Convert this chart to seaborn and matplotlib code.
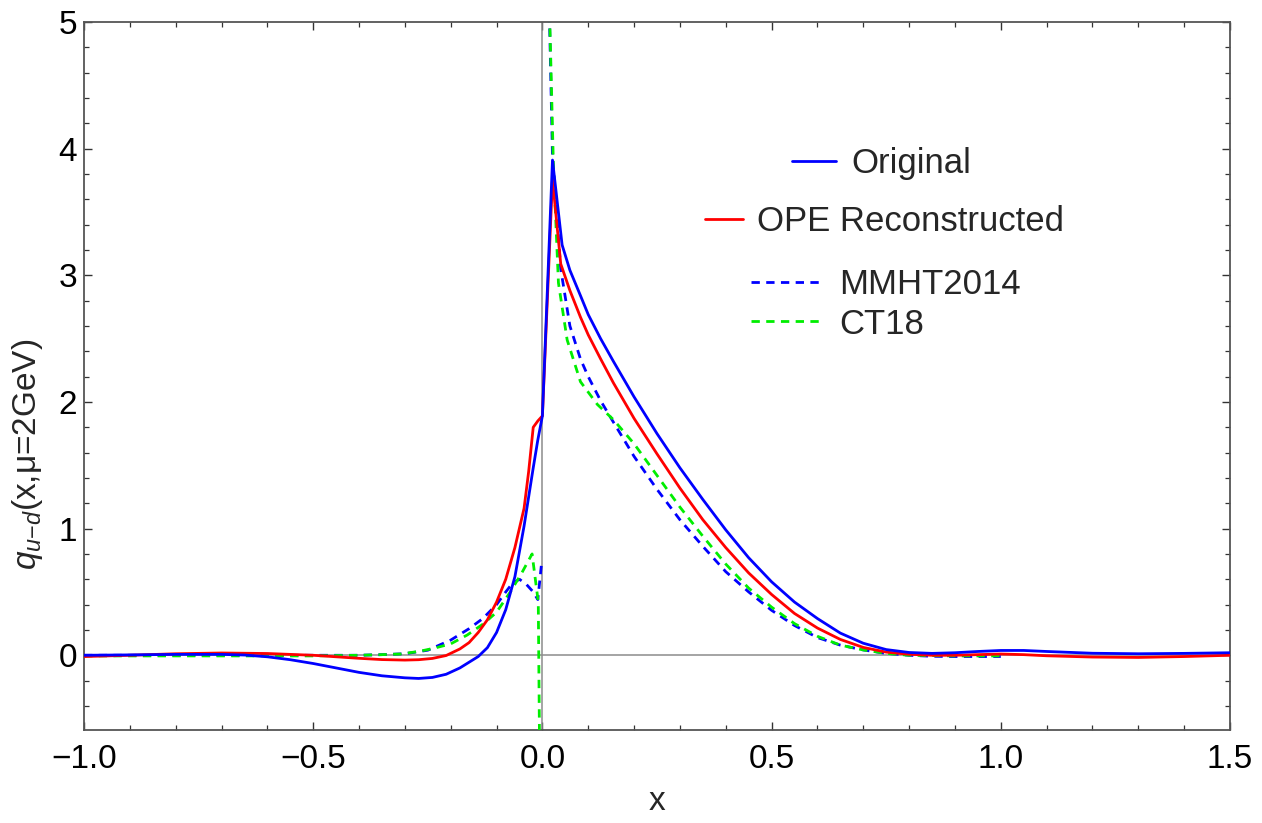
import numpy as np
import pandas as pd
import matplotlib
matplotlib.use("Agg")
import matplotlib.pyplot as plt
import seaborn as sns
from matplotlib.lines import Line2D
from matplotlib.ticker import MultipleLocator

# ---------------- data ----------------
orig_x = [-1.0, -0.9, -0.8, -0.7, -0.65, -0.6, -0.55, -0.5, -0.45, -0.4, -0.35, -0.3, -0.27,
          -0.24, -0.21, -0.18, -0.16, -0.14, -0.12, -0.10, -0.08, -0.06, -0.04, -0.03, -0.02,
          -0.01, 0.0, 0.022, 0.043, 0.06, 0.083, 0.1, 0.127, 0.155, 0.2, 0.25, 0.3, 0.35, 0.4,
          0.45, 0.5, 0.55, 0.6, 0.65, 0.7, 0.75, 0.8, 0.85, 0.9, 0.95, 1.0, 1.05, 1.1, 1.2,
          1.3, 1.4, 1.5]
orig_y = [0.0, 0.003, 0.007, 0.007, 0.002, -0.012, -0.035, -0.065, -0.10, -0.135, -0.162,
          -0.178, -0.183, -0.175, -0.15, -0.10, -0.055, -0.01, 0.06, 0.18, 0.36, 0.62, 1.02,
          1.25, 1.48, 1.70, 1.89, 3.91, 3.24, 3.04, 2.84, 2.69, 2.50, 2.32, 2.04, 1.75, 1.48,
          1.23, 0.99, 0.77, 0.58, 0.42, 0.29, 0.175, 0.095, 0.045, 0.022, 0.015, 0.02, 0.03,
          0.038, 0.038, 0.03, 0.016, 0.012, 0.015, 0.02]

ope_x = [-1.0, -0.9, -0.8, -0.7, -0.6, -0.5, -0.45, -0.4, -0.35, -0.3, -0.27, -0.24, -0.21,
         -0.18, -0.16, -0.14, -0.12, -0.10, -0.08, -0.06, -0.04, -0.03, -0.02, -0.01, 0.0,
         0.022, 0.04, 0.06, 0.083, 0.1, 0.127, 0.155, 0.2, 0.25, 0.3, 0.35, 0.4, 0.45, 0.5,
         0.55, 0.6, 0.65, 0.7, 0.75, 0.8, 0.85, 0.9, 0.95, 1.0, 1.05, 1.1, 1.2, 1.3, 1.4, 1.5]
ope_y = [-0.01, 0.0, 0.012, 0.018, 0.014, 0.0, -0.012, -0.024, -0.034, -0.038, -0.035, -0.025,
         -0.002, 0.05, 0.10, 0.18, 0.28, 0.42, 0.60, 0.85, 1.16, 1.45, 1.80, 1.85, 1.89,
         3.76, 3.09, 2.88, 2.67, 2.53, 2.34, 2.15, 1.87, 1.59, 1.32, 1.07, 0.85, 0.65, 0.48,
         0.33, 0.215, 0.125, 0.062, 0.025, 0.008, 0.0, 0.0, 0.005, 0.01, 0.005, -0.004, -0.014,
         -0.017, -0.01, 0.0]

mmht_x = [-1.0, -0.8, -0.6, -0.5, -0.4, -0.35, -0.3, -0.25, -0.2, -0.16, -0.13, -0.1, -0.08,
          -0.065, -0.05, -0.035, -0.02, -0.01, -0.002,
          0.012, 0.022, 0.04, 0.06, 0.083, 0.1, 0.127, 0.155, 0.2, 0.25, 0.3, 0.35, 0.4, 0.45,
          0.5, 0.55, 0.6, 0.65, 0.7, 0.75, 0.8, 0.85, 0.9, 0.95, 1.0]
mmht_y = [0.0, 0.0, 0.0, 0.0, 0.0, 0.005, 0.012, 0.04, 0.12, 0.21, 0.29, 0.40, 0.50,
          0.57, 0.60, 0.56, 0.50, 0.44, 0.72,
          5.6, 3.94, 3.05, 2.60, 2.34, 2.20, 2.01, 1.84, 1.57, 1.31, 1.07, 0.86, 0.66, 0.50,
          0.355, 0.235, 0.14, 0.08, 0.042, 0.015, 0.0, -0.008, -0.01, -0.01, -0.01]

ct18_x = [-1.0, -0.6, -0.5, -0.4, -0.35, -0.31, -0.27, -0.237, -0.2, -0.164, -0.128, -0.1,
          -0.07, -0.045, -0.0225, -0.009, -0.006,
          0.012, 0.024, 0.035, 0.054, 0.083, 0.12, 0.155, 0.2, 0.25, 0.3, 0.35, 0.4, 0.45,
          0.5, 0.55, 0.6, 0.65, 0.7, 0.75, 0.8, 0.9, 1.0]
ct18_y = [-0.005, -0.005, -0.005, 0.0, 0.005, 0.01, 0.03, 0.055, 0.09, 0.16, 0.25, 0.34,
          0.50, 0.65, 0.80, 0.42, -0.8,
          5.6, 3.87, 2.94, 2.49, 2.16, 1.98, 1.86, 1.67, 1.42, 1.17, 0.94, 0.72, 0.53,
          0.38, 0.25, 0.15, 0.08, 0.042, 0.015, 0.0, -0.005, -0.005]

labels = ["Original", "OPE Reconstructed", "MMHT2014", "CT18"]
x_ticks = [-1.0, -0.5, 0.0, 0.5, 1.0, 1.5]
y_ticks = [0, 1, 2, 3, 4, 5]

# ---------------- style ----------------
sns.set_theme(style="ticks")
plt.rcParams["font.family"] = ["Liberation Sans", "DejaVu Sans"]
plt.rcParams["mathtext.fontset"] = "custom"
plt.rcParams["mathtext.rm"] = "Liberation Sans"
plt.rcParams["mathtext.it"] = "Liberation Sans:italic"

W, H = 1262, 823
fig = plt.figure(figsize=(W / 100, H / 100), dpi=100)
ax = fig.add_axes([84 / W, 1 - 730 / H, (1230 - 84) / W, (730 - 22) / H])

def seg_frame(xs, ys):
    xs = np.asarray(xs); ys = np.asarray(ys)
    seg = (xs > 0.001).astype(int)
    return pd.DataFrame({"x": xs, "y": ys, "seg": seg})

lw = 2.0
dash = (0, (3.0, 2.3))

ax.axhline(0, color="#8c8c8c", lw=1.1, zorder=1)
ax.axvline(0, color="#8c8c8c", lw=1.1, zorder=1)

sns.lineplot(data=seg_frame(mmht_x, mmht_y), x="x", y="y", units="seg", estimator=None,
             sort=False, color="#0000ff", lw=lw, linestyle=dash, ax=ax, zorder=3)
sns.lineplot(data=seg_frame(ct18_x, ct18_y), x="x", y="y", units="seg", estimator=None,
             sort=False, color="#00ee00", lw=lw, linestyle=dash, ax=ax, zorder=3)
sns.lineplot(data=pd.DataFrame({"x": ope_x, "y": ope_y}), x="x", y="y", estimator=None,
             sort=False, color="#ff0000", lw=lw, ax=ax, zorder=4)
sns.lineplot(data=pd.DataFrame({"x": orig_x, "y": orig_y}), x="x", y="y", estimator=None,
             sort=False, color="#0000ff", lw=lw, ax=ax, zorder=5)

ax.set_xlim(-1.0, 1.5)
ax.set_ylim(-0.59, 5.0)
ax.set_xticks(x_ticks)
ax.set_xticklabels(["\u22121.0", "\u22120.5", "0.0", "0.5", "1.0", "1.5"])
ax.set_yticks(y_ticks)
ax.set_yticklabels([str(t) for t in y_ticks])
ax.xaxis.set_minor_locator(MultipleLocator(0.1))
ax.yaxis.set_minor_locator(MultipleLocator(0.2))

frame_c = "#555555"
for s in ax.spines.values():
    s.set_color(frame_c)
    s.set_linewidth(1.3)
ax.tick_params(which="both", direction="in", top=True, right=True, color="#333333",
               labelsize=24, labelcolor="black")
ax.tick_params(which="major", length=6, width=1.0)
ax.tick_params(which="minor", length=3.5, width=0.9)
ax.tick_params(axis="x", which="major", pad=10)
ax.tick_params(axis="y", which="major", pad=5)

ax.set_xlabel("x", fontsize=24, labelpad=8)
ax.set_ylabel(r"$q_{u\mathrm{-}d}$(x,μ=2GeV)", fontsize=24)
ax.yaxis.set_label_coords(-0.034, 0.39)

# legends (Mathematica-style, no frame)
h_orig = Line2D([], [], color="#0000ff", lw=lw)
h_ope = Line2D([], [], color="#ff0000", lw=lw)
h_mmht = Line2D([], [], color="#0000ff", lw=lw, linestyle=dash)
h_ct = Line2D([], [], color="#00ee00", lw=lw, linestyle=dash)

leg1 = ax.legend([h_orig], [labels[0]], loc="center left", bbox_to_anchor=(0.618, 0.80),
                 frameon=False, fontsize=25, handlelength=1.25, handletextpad=0.45,
                 borderaxespad=0, borderpad=0)
ax.add_artist(leg1)
leg2 = ax.legend([h_ope], [labels[1]], loc="center left", bbox_to_anchor=(0.542, 0.718),
                 frameon=False, fontsize=25, handlelength=1.1, handletextpad=0.4,
                 borderaxespad=0, borderpad=0)
ax.add_artist(leg2)
leg3 = ax.legend([h_mmht, h_ct], labels[2:], loc="upper left", bbox_to_anchor=(0.582, 0.652),
                 frameon=False, fontsize=25, handlelength=2.05, handletextpad=0.5,
                 borderaxespad=0, borderpad=0, labelspacing=0.18)

fig.savefig("out.png", dpi=100)
